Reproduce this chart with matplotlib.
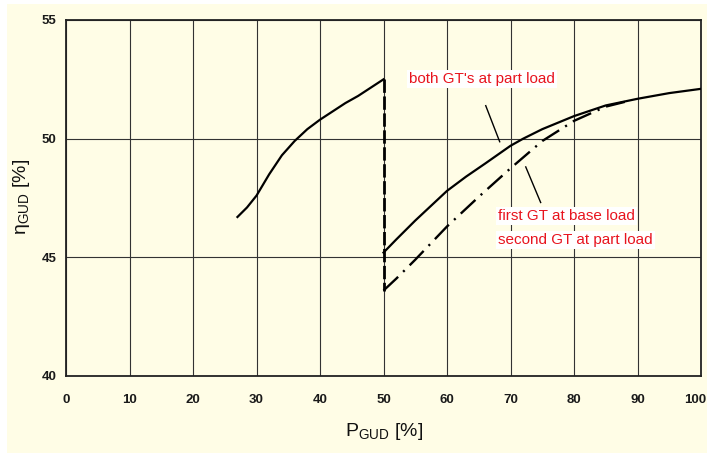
import matplotlib
matplotlib.use("Agg")
import matplotlib.pyplot as plt
from matplotlib.patches import Rectangle
from matplotlib.transforms import ScaledTranslation

plt.rcParams['font.family'] = ['Liberation Sans', 'DejaVu Sans']

# ---- data ----
x_low = [27, 28.5, 30, 32, 34, 36, 38, 40, 42, 44, 46, 48, 50]
y_low = [46.7, 47.1, 47.6, 48.5, 49.3, 49.9, 50.4, 50.8, 51.15, 51.5, 51.8, 52.15, 52.5]

x_both = [50, 52, 55, 58, 60, 63, 66, 70, 72, 75, 80, 85, 90, 95, 100]
y_both = [45.2, 45.75, 46.55, 47.3, 47.8, 48.4, 48.95, 49.7, 50.0, 50.4, 50.95, 51.4, 51.68, 51.92, 52.1]

x_base = [50, 52, 55, 60, 65, 70, 75, 80, 85, 88]
y_base = [43.6, 44.1, 44.9, 46.3, 47.55, 48.75, 49.9, 50.75, 51.35, 51.55]

x_switch = [50, 50]
y_switch = [52.5, 43.6]

x_ticks = [0, 10, 20, 30, 40, 50, 60, 70, 80, 90, 100]
y_ticks = [40, 45, 50, 55]

label_both = "both GT's at part load"
label_base1 = "first GT at base load"
label_base2 = "second GT at part load"

# ---- figure ----
W, H = 707, 453
fig = plt.figure(figsize=(W / 100, H / 100), dpi=100)
fig.patch.set_facecolor('white')
cream = '#fffde6'
fig.patches.append(Rectangle((7 / W, 0), 1 - 7 / W, 1 - 4 / H, transform=fig.transFigure,
                             facecolor=cream, edgecolor='none', zorder=-10))

ax = fig.add_axes([66 / W, (H - 376) / H, 635 / W, 356 / H])
ax.set_facecolor(cream)
ax.set_xlim(0, 100)
ax.set_ylim(40, 55)
ax.set_xticks(x_ticks)
ax.set_yticks(y_ticks)
tick_font = dict(fontsize=9.5, fontweight='bold',
                 family=['Liberation Sans Narrow', 'Liberation Sans', 'DejaVu Sans'])
ax.set_xticklabels([str(v) for v in x_ticks], **tick_font)
ax.set_yticklabels([str(v) for v in y_ticks], **tick_font)
ax.tick_params(axis='both', length=0, colors='#1a1a1a')
ax.tick_params(axis='x', pad=13)
ax.tick_params(axis='y', pad=7)
# keep the last x label ("100") inside the picture
last = ax.get_xticklabels()[-1]
last.set_transform(last.get_transform() + ScaledTranslation(-6 / 100, 0, fig.dpi_scale_trans))

ax.grid(True, color='#333333', linewidth=0.8)
ax.set_axisbelow(True)
for s in ax.spines.values():
    s.set_linewidth(1.3)
    s.set_color('#222222')

ax.plot(x_low, y_low, color='black', linewidth=1.6, zorder=3)
ax.plot(x_both, y_both, color='black', linewidth=1.6, zorder=3)
ax.plot(x_base, y_base, color='black', linewidth=1.7, linestyle=(0, (8.5, 3, 0.9, 3)), zorder=3)
ax.plot(x_switch, y_switch, color='black', linewidth=2.0, linestyle=(0, (4.8, 1.3)), zorder=3)

# leader lines
ax.plot([66.1, 68.3], [51.39, 49.87], color='black', linewidth=1.0, zorder=3)
ax.plot([72.4, 74.75], [48.81, 47.31], color='black', linewidth=1.0, zorder=3)

red = '#e8141e'
box = dict(facecolor='white', edgecolor='none', pad=1.5)
ax.text(54.0, 52.52, label_both, color=red, fontsize=11, va='center', ha='left', bbox=box, zorder=4)
ax.text(68.1, 46.75, label_base1, color=red, fontsize=11, va='center', ha='left', bbox=box, zorder=4)
ax.text(68.1, 45.73, label_base2, color=red, fontsize=11, va='center', ha='left', bbox=box, zorder=4)

fig.text(384 / W, 1 - 432 / H, r'P$_{\mathregular{GUD}}$ [%]', fontsize=14,
         ha='center', va='center', color='#111111')
fig.text(22 / W, 1 - 197 / H, r'$\mathregular{\eta_{GUD}}$ [%]', fontsize=14,
         ha='center', va='center', rotation=90, color='#111111')

fig.savefig('out.png', dpi=100, facecolor=fig.get_facecolor())
